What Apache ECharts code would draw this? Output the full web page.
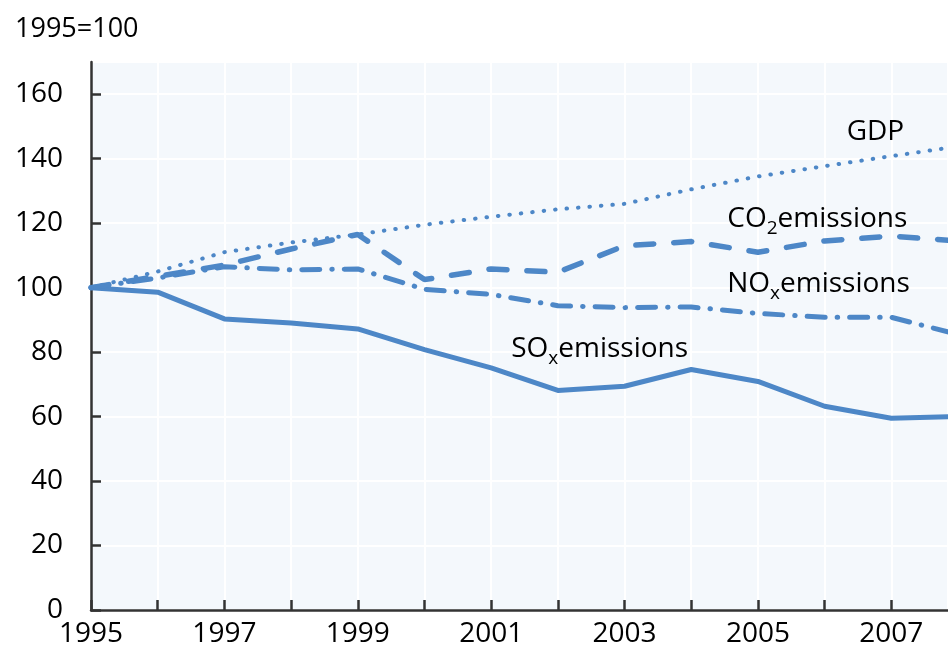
<!DOCTYPE html>
<html>
<head>
<meta charset="utf-8">
<script src="https://cdn.jsdelivr.net/npm/echarts@6/dist/echarts.min.js"></script>
<style>html,body{margin:0;padding:0;background:#fff;overflow:hidden;}#c{width:948px;height:658px;}</style>
</head>
<body>
<div id="c"></div>
<script>
const years = [1995,1996,1997,1998,1999,2000,2001,2002,2003,2004,2005,2006,2007,2008];
const gdp = [100,105,111,114,116.5,119.5,122,124.3,126,130.5,134.5,137.7,140.8,143.8];
const co2 = [100,103.5,107,112,116.5,102.5,105.8,104.8,113,114.3,111,114.5,116,114.5];
const nox = [100,103,106.5,105.5,105.8,99.5,97.9,94.4,93.8,94,92,90.8,90.8,85.5];
const sox = [100,98.6,90.3,89,87.2,80.8,75.1,68.1,69.4,74.6,70.9,63.2,59.5,60];
const yTicks = [0,20,40,60,80,100,120,140,160];
const unitLabel = '1995=100';
// visible x-range ends just before 2008 (the reference is cropped there)
const xMin = 1995, xMaxVisible = 2007.85;
// series label anchors: [year, value] (left edge, vertical middle)
const labelGDP = [2006.33, 148.2];
const labelCO2 = [2004.54, 120.6];
const labelNOx = [2004.54, 100.4];
const labelSOx = [2001.30, 80.2];

const FONT = 'Open Sans';
const BLUE = '#4d87c7';
const TXT = '#000';
const rich = {
  a: {fontFamily: FONT, fontSize: 28, color: TXT, lineHeight: 33, verticalAlign: 'top'},
  s: {fontFamily: FONT, fontSize: 19, color: TXT, lineHeight: 33, verticalAlign: 'bottom'},
  g: {fontFamily: FONT, fontSize: 28, color: TXT, lineHeight: 34}
};
function pts(arr){ return years.map((y,i)=>[y, arr[i]]); }
function mk(coord, text){
  return {
    symbol: 'circle', symbolSize: 0, silent: true,
    data: [{coord: coord}],
    label: {show: true, position: 'right', distance: 0, formatter: text, rich: rich}
  };
}
const chart = echarts.init(document.getElementById('c'));
chart.setOption({
  animation: false,
  title: {text: unitLabel, left: 10, top: 11, textStyle: {fontFamily: FONT, fontSize: 27, fontWeight: 'normal', color: TXT}},
  grid: {left: 91, right: 0, top: 62, bottom: 48, show: true, backgroundColor: '#f4f8fc', borderWidth: 0},
  xAxis: {
    type: 'value', min: xMin, max: xMaxVisible, interval: 1,
    axisLine: {show: true, onZero: false, lineStyle: {color: '#333', width: 2.5}},
    axisTick: {show: true, inside: true, length: 10, lineStyle: {color: '#333', width: 2.5}},
    axisLabel: {fontFamily: FONT, fontSize: 28, color: TXT, margin: 10, showMaxLabel: false,
      formatter: v => (Number.isInteger(v) && v % 2 === 1 ? String(v) : '')},
    splitLine: {show: true, lineStyle: {color: '#ffffff', width: 2}}
  },
  yAxis: {
    type: 'value', min: 0, max: 170, interval: 20,
    axisLine: {show: true, lineStyle: {color: '#333', width: 2.5}},
    axisTick: {show: true, inside: true, length: 10, lineStyle: {color: '#333', width: 2.5}},
    axisLabel: {fontFamily: FONT, fontSize: 28, color: TXT, margin: 28, showMaxLabel: false,
      formatter: v => (yTicks.indexOf(v) >= 0 ? String(v) : '')},
    splitLine: {show: true, lineStyle: {color: '#ffffff', width: 2}}
  },
  series: [
    {type: 'line', data: pts(sox), symbol: 'none', lineStyle: {color: BLUE, width: 5, cap: 'round', join: 'round'},
     markPoint: mk(labelSOx, '{a|SO}{s|x}{a|emissions}')},
    {type: 'line', data: pts(nox), symbol: 'none', lineStyle: {color: BLUE, width: 5, type: [18, 12, 0.5, 12], cap: 'round'},
     markPoint: mk(labelNOx, '{a|NO}{s|x}{a|emissions}')},
    {type: 'line', data: pts(co2), symbol: 'none', lineStyle: {color: BLUE, width: 5.5, type: [18, 20], cap: 'round'},
     markPoint: mk(labelCO2, '{a|CO}{s|2}{a|emissions}')},
    {type: 'line', data: pts(gdp), symbol: 'none', lineStyle: {color: BLUE, width: 4, type: [0.5, 11], cap: 'round'},
     markPoint: mk(labelGDP, '{g|GDP}')}
  ]
});
</script>
</body>
</html>
